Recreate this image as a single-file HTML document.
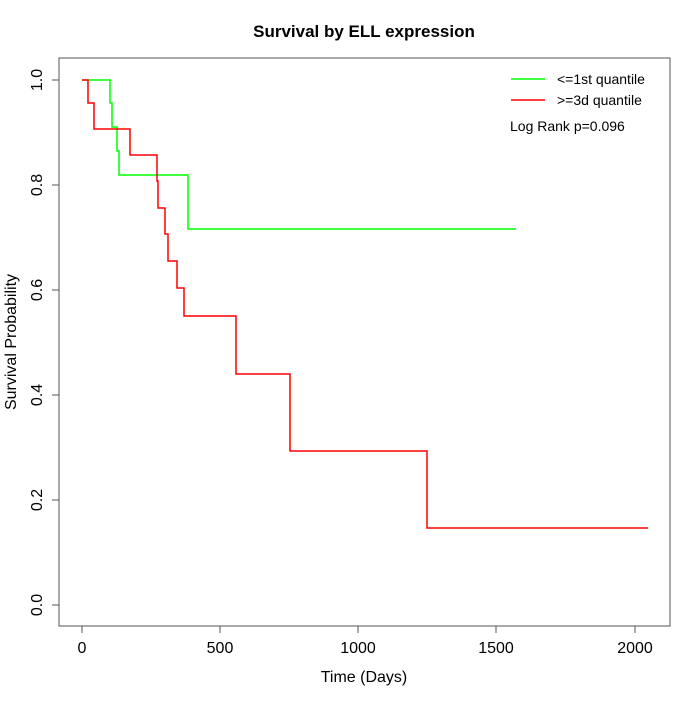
<!DOCTYPE html><html><head><style>body{margin:0;background:#fff}</style></head><body>
<svg width="700" height="700" xmlns="http://www.w3.org/2000/svg" font-family="Liberation Sans, sans-serif">
<text x="364" y="37" font-size="17" font-weight="bold" text-anchor="middle">Survival by ELL expression</text>
<rect x="59" y="58" width="611" height="568" fill="none" stroke="#555" stroke-width="1"/>
<g stroke="#555">
<line x1="82" y1="626" x2="82" y2="633"/><line x1="220" y1="626" x2="220" y2="633"/><line x1="358" y1="626" x2="358" y2="633"/><line x1="496" y1="626" x2="496" y2="633"/><line x1="635" y1="626" x2="635" y2="633"/>
<line x1="52" y1="80" x2="59" y2="80"/><line x1="52" y1="185" x2="59" y2="185"/><line x1="52" y1="290" x2="59" y2="290"/><line x1="52" y1="395" x2="59" y2="395"/><line x1="52" y1="500" x2="59" y2="500"/><line x1="52" y1="605" x2="59" y2="605"/>
</g>
<g font-size="16" text-anchor="middle">
<text x="82" y="653">0</text><text x="220" y="653">500</text><text x="358" y="653">1000</text><text x="496" y="653">1500</text><text x="635" y="653">2000</text>
<text x="364" y="682">Time (Days)</text>
<g transform="rotate(-90)"><text x="-80" y="42">1.0</text><text x="-185" y="42">0.8</text><text x="-290" y="42">0.6</text><text x="-395" y="42">0.4</text><text x="-500" y="42">0.2</text><text x="-605" y="42">0.0</text><text x="-342" y="16">Survival Probability</text></g>
</g>
<polyline fill="none" stroke="#0f0" stroke-width="1.5" points="82,80 110,80 110,103 112,103 112,127 117,127 117,151 119,151 119,175 188,175 188,229 516,229"/>
<polyline fill="none" stroke="#f00" stroke-width="1.5" points="82,80 88,80 88,103 94,103 94,129 130,129 130,155 157,155 157,181 158,181 158,208 165,208 165,234 168,234 168,261 177,261 177,288 184,288 184,316 236,316 236,374 290,374 290,451 427,451 427,528 648,528"/>
<line x1="511" y1="79" x2="545" y2="79" stroke="#0f0" stroke-width="1.5"/>
<line x1="511" y1="100" x2="545" y2="100" stroke="#f00" stroke-width="1.5"/>
<g font-size="14"><text x="557" y="84">&lt;=1st quantile</text><text x="557" y="105">&gt;=3d quantile</text><text x="510" y="131">Log Rank p=0.096</text></g>
</svg></body></html>
